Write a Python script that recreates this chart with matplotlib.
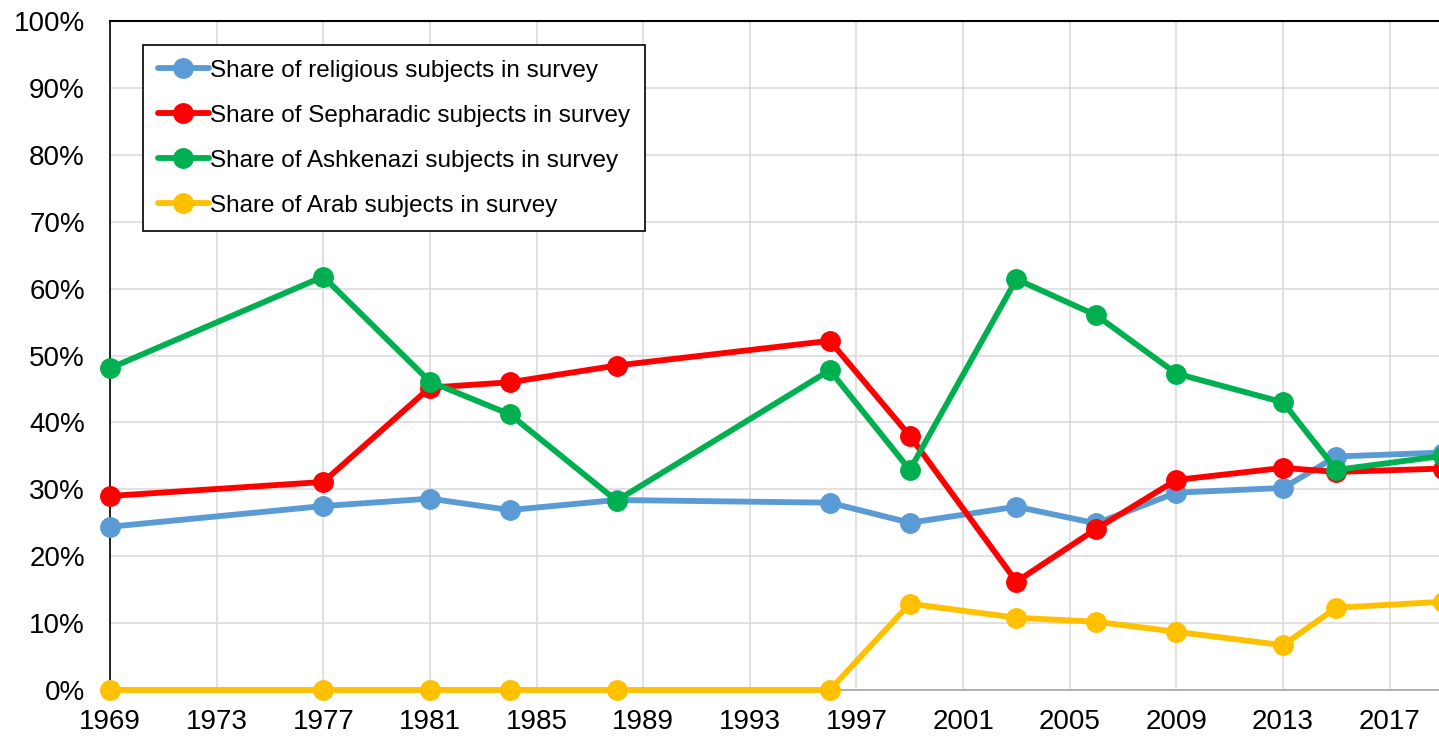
import matplotlib
matplotlib.use("Agg")
import matplotlib.pyplot as plt
from matplotlib.ticker import FuncFormatter, MultipleLocator

plt.rcParams['font.family'] = ['Liberation Sans', 'DejaVu Sans']

years = [1969, 1977, 1981, 1984, 1988, 1996, 1999, 2003, 2006, 2009, 2013, 2015, 2019]
tick_years = [1969, 1973, 1977, 1981, 1985, 1989, 1993, 1997, 2001, 2005, 2009, 2013, 2017]

religious = [24.4, 27.5, 28.6, 26.9, 28.4, 28.0, 25.0, 27.4, 24.9, 29.5, 30.2, 34.9, 35.5]
sepharadic = [29.0, 31.1, 45.2, 46.0, 48.5, 52.2, 38.0, 16.2, 24.1, 31.4, 33.2, 32.6, 33.1]
ashkenazi = [48.1, 61.8, 46.1, 41.2, 28.3, 47.8, 32.9, 61.4, 56.0, 47.3, 43.0, 32.9, 35.0]
arab = [0, 0, 0, 0, 0, 0, 12.9, 10.8, 10.2, 8.7, 6.7, 12.3, 13.2]

series = [
    ("Share of religious subjects in survey", religious, "#5B9BD5"),
    ("Share of Sepharadic subjects in survey", sepharadic, "#FF0000"),
    ("Share of Ashkenazi subjects in survey", ashkenazi, "#00B050"),
    ("Share of Arab subjects in survey", arab, "#FFC000"),
]

W, H = 1439, 739
fig = plt.figure(figsize=(W / 100, H / 100), dpi=100)
ax = fig.add_axes([110 / W, 49 / H, (1443 - 110) / W, (690 - 21) / H])

for label, vals, color in series:
    ax.plot(years, vals, color=color, lw=4.2, marker="o", markersize=14,
            label=label, solid_capstyle="round", clip_on=False, zorder=3)

ax.set_xlim(1969, 2019)
ax.set_ylim(0, 100)
ax.set_xticks(tick_years)
ax.yaxis.set_major_locator(MultipleLocator(10))
ax.yaxis.set_major_formatter(FuncFormatter(lambda v, p: f"{int(round(v))}%"))

ax.grid(True, color="#D9D9D9", lw=1.1, zorder=0)
ax.set_axisbelow(True)
ax.tick_params(length=0, labelsize=20)
ax.tick_params(axis="y", pad=18)
ax.tick_params(axis="x", pad=14)

ax.spines["right"].set_visible(False)
ax.spines["top"].set_color("black")
ax.spines["top"].set_linewidth(1.5)
ax.spines["left"].set_color("black")
ax.spines["left"].set_linewidth(1.2)
ax.spines["bottom"].set_color("#A6A6A6")
ax.spines["bottom"].set_linewidth(1.2)

leg = ax.legend(loc="upper left", bbox_to_anchor=(33 / 1333, 1 - 24 / 669),
                fontsize=17.5, frameon=True, fancybox=False, edgecolor="black",
                framealpha=1, handlelength=2.1, handletextpad=0.05,
                labelspacing=0.95, borderpad=0.6, borderaxespad=0)
leg.get_frame().set_linewidth(1.2)

fig.savefig("out.png", dpi=100)
